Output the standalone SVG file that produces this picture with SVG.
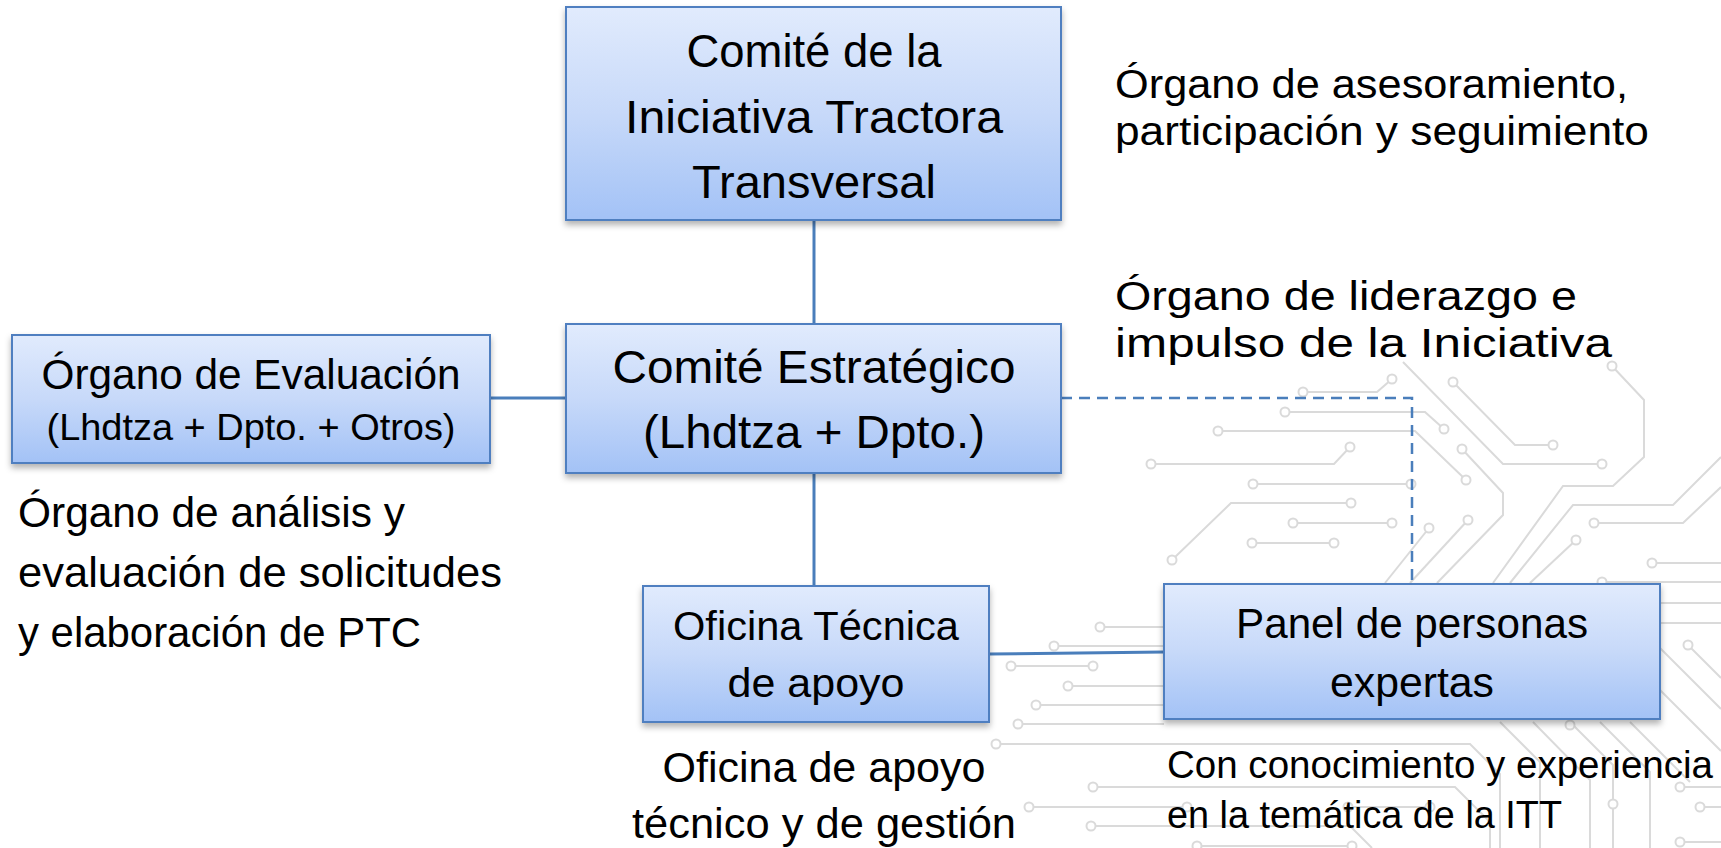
<svg xmlns="http://www.w3.org/2000/svg" width="1721" height="848" viewBox="0 0 1721 848">
<style>
.tr{fill:none;stroke:#dadada;stroke-width:2}
.pad{fill:#fff;stroke:#dadada;stroke-width:2}
.box{fill:url(#g);stroke:#4f7fc0;stroke-width:2;filter:url(#sh)}
.t{font-family:"Liberation Sans",Arial,sans-serif;fill:#000}
.c{text-anchor:middle}
.con{fill:none;stroke:#4a7ebb;stroke-width:3}
.dash{fill:none;stroke:#4a7ebb;stroke-width:2.5;stroke-dasharray:11 7}
</style>
<defs>
<linearGradient id="g" x1="0" y1="0" x2="0" y2="1">
<stop offset="0" stop-color="#e1ebfd"/>
<stop offset="0.5" stop-color="#c7d9f9"/>
<stop offset="1" stop-color="#a3c2f6"/>
</linearGradient>
<filter id="sh" x="-5%" y="-5%" width="110%" height="120%">
<feDropShadow dx="0" dy="4" stdDeviation="3" flood-color="#000" flood-opacity="0.3"/>
</filter>
</defs>
<rect width="1721" height="848" fill="#fff"/>
<g id="circuit">
<path class="tr" d="M1303,392 H1377 L1392,379"/>
<path class="tr" d="M1285,412 H1425 L1444,429"/>
<path class="tr" d="M1218,431 H1415 L1466,480"/>
<path class="tr" d="M1151,464 H1334 L1350,447"/>
<path class="tr" d="M1253,484 H1411"/>
<path class="tr" d="M1172,560 L1231,503 H1351"/>
<path class="tr" d="M1293,523 H1392"/>
<path class="tr" d="M1252,543 H1334"/>
<path class="tr" d="M1403,362 L1503,464 H1602"/>
<path class="tr" d="M1453,382 L1515,445 H1553"/>
<path class="tr" d="M1462,449 L1503,493 V515 L1437,583"/>
<path class="tr" d="M1612,366 L1644,400 V457 L1613,486 H1563 L1493,583"/>
<path class="tr" d="M1721,457 L1673,505 H1573 L1510,583"/>
<path class="tr" d="M1721,487 L1683,523 H1594"/>
<path class="tr" d="M1576,540 L1530,583"/>
<path class="tr" d="M1429,528 L1385,583"/>
<path class="tr" d="M1468,520 L1410,583"/>
<path class="tr" d="M1652,563 H1721 M1602,582 H1721 M1660,603 H1721 M1660,623 H1721"/>
<path class="tr" d="M1688,645 L1721,678 M1660,648 L1721,709 M1660,690 L1721,751"/>
<path class="tr" d="M1533,722 L1590,780 V848 M1570,722 L1613,765 V800 M1613,808 V848 M1600,722 L1650,772 V848 M1630,722 L1690,782 M1500,722 L1540,762 V848"/>
<path class="tr" d="M1680,787 H1721 M1700,807 H1721 M1680,842 H1721"/>
<path class="tr" d="M1100,627 H1164 M1054,646 H1164 M1011,666 H1093 M1068,686 H1164 M1036,705 H1164 M1018,724 H1164"/>
<path class="tr" d="M996,744 H1470 L1500,774 V848"/>
<path class="tr" d="M1093,787 H1455 L1490,822 V848"/>
<path class="tr" d="M1029,807 H1187 M1091,826 H1350 L1372,848 M1197,846 H1352 M1348,807 H1430"/>
<g>
<circle class="pad" cx="1303" cy="392" r="4.5"/><circle class="pad" cx="1392" cy="379" r="4.5"/>
<circle class="pad" cx="1285" cy="412" r="4.5"/><circle class="pad" cx="1444" cy="429" r="4.5"/>
<circle class="pad" cx="1218" cy="431" r="4.5"/><circle class="pad" cx="1466" cy="480" r="4.5"/>
<circle class="pad" cx="1151" cy="464" r="4.5"/><circle class="pad" cx="1350" cy="447" r="4.5"/>
<circle class="pad" cx="1253" cy="484" r="4.5"/><circle class="pad" cx="1411" cy="484" r="4.5"/>
<circle class="pad" cx="1172" cy="560" r="4.5"/><circle class="pad" cx="1351" cy="503" r="4.5"/>
<circle class="pad" cx="1293" cy="523" r="4.5"/><circle class="pad" cx="1392" cy="523" r="4.5"/>
<circle class="pad" cx="1252" cy="543" r="4.5"/><circle class="pad" cx="1334" cy="543" r="4.5"/>
<circle class="pad" cx="1602" cy="464" r="4.5"/>
<circle class="pad" cx="1453" cy="382" r="4.5"/><circle class="pad" cx="1553" cy="445" r="4.5"/>
<circle class="pad" cx="1462" cy="449" r="4.5"/>
<circle class="pad" cx="1612" cy="366" r="4.5"/>
<circle class="pad" cx="1594" cy="523" r="4.5"/>
<circle class="pad" cx="1576" cy="540" r="4.5"/>
<circle class="pad" cx="1429" cy="528" r="4.5"/><circle class="pad" cx="1468" cy="520" r="4.5"/>
<circle class="pad" cx="1652" cy="563" r="4.5"/><circle class="pad" cx="1602" cy="582" r="4.5"/>
<circle class="pad" cx="1688" cy="645" r="4.5"/>
<circle class="pad" cx="1613" cy="804" r="4.5"/>
<circle class="pad" cx="1680" cy="787" r="4.5"/><circle class="pad" cx="1700" cy="807" r="4.5"/><circle class="pad" cx="1680" cy="842" r="4.5"/>
<circle class="pad" cx="1100" cy="627" r="4.5"/><circle class="pad" cx="1054" cy="646" r="4.5"/>
<circle class="pad" cx="1011" cy="666" r="4.5"/><circle class="pad" cx="1093" cy="666" r="4.5"/>
<circle class="pad" cx="1068" cy="686" r="4.5"/><circle class="pad" cx="1036" cy="705" r="4.5"/>
<circle class="pad" cx="1018" cy="724" r="4.5"/><circle class="pad" cx="996" cy="744" r="4.5"/>
<circle class="pad" cx="1093" cy="787" r="4.5"/><circle class="pad" cx="1029" cy="807" r="4.5"/>
<circle class="pad" cx="1187" cy="807" r="4.5"/><circle class="pad" cx="1091" cy="826" r="4.5"/>
<circle class="pad" cx="1197" cy="846" r="4.5"/><circle class="pad" cx="1352" cy="846" r="4.5"/>
<circle class="pad" cx="1348" cy="807" r="4.5"/><circle class="pad" cx="1430" cy="807" r="4.5"/>
<circle class="pad" cx="1570" cy="725" r="4.5"/>
</g>
</g>
<g id="connectors">
<path class="con" d="M814,220 V324"/>
<path class="con" d="M490,398 H566"/>
<path class="con" d="M814,473 V586"/>
<path class="con" d="M989,654 L1164,652"/>
<path class="dash" d="M1061,398 H1412 V584"/>
</g>
<g id="comite-iniciativa">
<rect class="box" x="566" y="7" width="495" height="213"/>
<text class="t c" x="814" y="67" font-size="47" textLength="255" lengthAdjust="spacingAndGlyphs">Comité de la</text>
<text class="t c" x="814" y="133" font-size="47" textLength="378" lengthAdjust="spacingAndGlyphs">Iniciativa Tractora</text>
<text class="t c" x="814" y="198" font-size="47" textLength="244" lengthAdjust="spacingAndGlyphs">Transversal</text>
</g>
<g id="comite-estrategico">
<rect class="box" x="566" y="324" width="495" height="149"/>
<text class="t c" x="814" y="383" font-size="47" textLength="403" lengthAdjust="spacingAndGlyphs">Comité Estratégico</text>
<text class="t c" x="814" y="448" font-size="47" textLength="342" lengthAdjust="spacingAndGlyphs">(Lhdtza + Dpto.)</text>
</g>
<g id="organo-evaluacion">
<rect class="box" x="12" y="335" width="478" height="128"/>
<text class="t c" x="251" y="389" font-size="42" textLength="419" lengthAdjust="spacingAndGlyphs">Órgano de Evaluación</text>
<text class="t c" x="251" y="440" font-size="37" textLength="409" lengthAdjust="spacingAndGlyphs">(Lhdtza + Dpto. + Otros)</text>
</g>
<g id="oficina-tecnica">
<rect class="box" x="643" y="586" width="346" height="136"/>
<text class="t c" x="816" y="640" font-size="41" textLength="286" lengthAdjust="spacingAndGlyphs">Oficina Técnica</text>
<text class="t c" x="816" y="697" font-size="41" textLength="177" lengthAdjust="spacingAndGlyphs">de apoyo</text>
</g>
<g id="panel-expertas">
<rect class="box" x="1164" y="584" width="496" height="135"/>
<text class="t c" x="1412" y="638" font-size="42" textLength="352" lengthAdjust="spacingAndGlyphs">Panel de personas</text>
<text class="t c" x="1412" y="697" font-size="42" textLength="164" lengthAdjust="spacingAndGlyphs">expertas</text>
</g>
<g id="labels">
<text class="t" x="1115" y="98" font-size="40" textLength="513" lengthAdjust="spacingAndGlyphs">Órgano de asesoramiento,</text>
<text class="t" x="1115" y="145" font-size="40" textLength="534" lengthAdjust="spacingAndGlyphs">participación y seguimiento</text>
<text class="t" x="1115" y="310" font-size="40" textLength="462" lengthAdjust="spacingAndGlyphs">Órgano de liderazgo e</text>
<text class="t" x="1115" y="357" font-size="40" textLength="497" lengthAdjust="spacingAndGlyphs">impulso de la Iniciativa</text>
<text class="t" x="18" y="527" font-size="42" textLength="387" lengthAdjust="spacingAndGlyphs">Órgano de análisis y</text>
<text class="t" x="18" y="587" font-size="42" textLength="484" lengthAdjust="spacingAndGlyphs">evaluación de solicitudes</text>
<text class="t" x="18" y="647" font-size="42" textLength="403" lengthAdjust="spacingAndGlyphs">y elaboración de PTC</text>
<text class="t c" x="824" y="782" font-size="43" textLength="323" lengthAdjust="spacingAndGlyphs">Oficina de apoyo</text>
<text class="t c" x="824" y="838" font-size="43" textLength="384" lengthAdjust="spacingAndGlyphs">técnico y de gestión</text>
<text class="t" x="1167" y="778" font-size="38" textLength="546" lengthAdjust="spacingAndGlyphs">Con conocimiento y experiencia</text>
<text class="t" x="1167" y="828" font-size="38" textLength="395" lengthAdjust="spacingAndGlyphs">en la temática de la ITT</text>
</g>
</svg>
